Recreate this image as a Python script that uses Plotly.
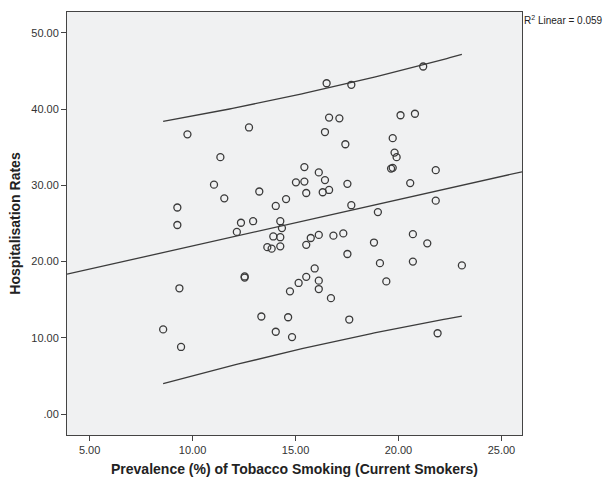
import numpy as np
import plotly.graph_objects as go

# Prevalence (%) of tobacco smoking (current smokers)
smoking = [8.57, 9.44, 9.36, 9.26, 9.26, 9.75, 11.04, 11.35, 11.54, 12.15,
           12.35, 12.53, 12.53, 12.74, 12.94, 13.24, 13.34, 13.63, 13.84, 13.92,
           14.04, 14.04, 14.26, 14.26, 14.26, 14.34, 14.54, 14.64, 14.73, 14.83,
           15.02, 15.15, 15.43, 15.43, 15.52, 15.52, 15.74, 15.52, 15.93, 16.13,
           16.13, 16.13, 16.13, 16.32, 16.43, 16.43, 16.51, 16.63, 16.63, 16.72,
           16.84, 17.13, 17.32, 17.42, 17.52, 17.52, 17.61, 17.71, 17.71, 18.81,
           19.00, 19.10, 19.41, 19.64, 19.72, 19.72, 19.81, 19.91, 20.10, 20.57,
           20.70, 20.70, 20.80, 21.20, 21.40, 21.81, 21.81, 21.90, 23.08]
# Hospitalisation rates
hosp = [11.1, 8.8, 16.5, 24.8, 27.1, 36.7, 30.1, 33.7, 28.3, 23.9,
        25.1, 18.06, 17.9, 37.6, 25.3, 29.2, 12.8, 21.9, 21.7, 23.3,
        27.3, 10.8, 25.3, 23.2, 22.0, 24.4, 28.2, 12.7, 16.1, 10.1,
        30.4, 17.2, 32.4, 30.5, 29.0, 22.2, 23.1, 18.0, 19.1, 31.7,
        23.5, 17.5, 16.4, 29.1, 37.0, 30.7, 43.4, 38.9, 29.4, 15.2,
        23.4, 38.8, 23.7, 35.4, 30.2, 21.0, 12.4, 43.2, 27.4, 22.5,
        26.5, 19.8, 17.4, 32.2, 32.3, 36.2, 34.3, 33.7, 39.2, 30.3,
        23.6, 20.0, 39.4, 45.6, 22.4, 32.0, 28.0, 10.6, 19.5]

x_ticks = [5, 10, 15, 20, 25]
x_ticktext = ["5.00", "10.00", "15.00", "20.00", "25.00"]
y_ticks = [0, 10, 20, 30, 40, 50]
y_ticktext = [".00", "10.00", "20.00", "30.00", "40.00", "50.00"]
x_range = [3.9, 26.0]
y_range = [-2.75, 52.75]
t_crit = 1.991  # t(0.975, df = n-2)

x = np.array(smoking)
y = np.array(hosp)
n = len(x)
slope, intercept = np.polyfit(x, y, 1)
resid = y - (intercept + slope * x)
s = np.sqrt(np.sum(resid ** 2) / (n - 2))
xbar = x.mean()
sxx = np.sum((x - xbar) ** 2)

fit_x = np.linspace(x_range[0], x_range[1], 100)
fit_y = intercept + slope * fit_x
pi_x = np.linspace(x.min(), x.max(), 100)
pi_half = t_crit * s * np.sqrt(1 + 1 / n + (pi_x - xbar) ** 2 / sxx)
pi_mid = intercept + slope * pi_x

line_style = dict(color="#3c3c3c", width=1.3)
fig = go.Figure()
fig.add_trace(go.Scatter(x=fit_x, y=fit_y, mode="lines", line=line_style, hoverinfo="skip"))
fig.add_trace(go.Scatter(x=pi_x, y=pi_mid + pi_half, mode="lines", line=line_style, hoverinfo="skip"))
fig.add_trace(go.Scatter(x=pi_x, y=pi_mid - pi_half, mode="lines", line=line_style, hoverinfo="skip"))
fig.add_trace(go.Scatter(
    x=smoking, y=hosp, mode="markers",
    marker=dict(symbol="circle-open", size=7, color="#3a3a3a", line=dict(width=1.3, color="#3a3a3a")),
))

axis_common = dict(
    showline=True, mirror=True, linecolor="#444444", linewidth=1,
    ticks="outside", ticklen=5, tickcolor="#444444", tickwidth=1,
    showgrid=False, zeroline=False,
    tickfont=dict(family="Liberation Sans, Arial, sans-serif", size=11, color="#333333"),
)
fig.update_layout(
    width=607, height=485,
    margin=dict(l=67, r=85, t=11, b=48),
    paper_bgcolor="white", plot_bgcolor="#F0F1F2",
    showlegend=False,
    font=dict(family="Liberation Sans, Arial, sans-serif", color="#222222"),
    xaxis=dict(range=x_range, tickvals=x_ticks, ticktext=x_ticktext,
               title=dict(text="<b>Prevalence (%) of Tobacco Smoking (Current Smokers)</b>",
                          font=dict(size=14, color="#222222"), standoff=8),
               **axis_common),
    yaxis=dict(range=y_range, tickvals=y_ticks, ticktext=y_ticktext,
               title=dict(text="<b>Hospitalisation Rates</b>",
                          font=dict(size=14, color="#222222"), standoff=7),
               **axis_common),
    annotations=[dict(
        text="R<sup>2</sup> Linear = 0.059", xref="paper", yref="paper",
        x=1, y=1, xanchor="left", yanchor="middle", xshift=0, yshift=-8,
        showarrow=False, font=dict(size=10, color="#222222"),
    )],
)
fig.write_html("out.html")
